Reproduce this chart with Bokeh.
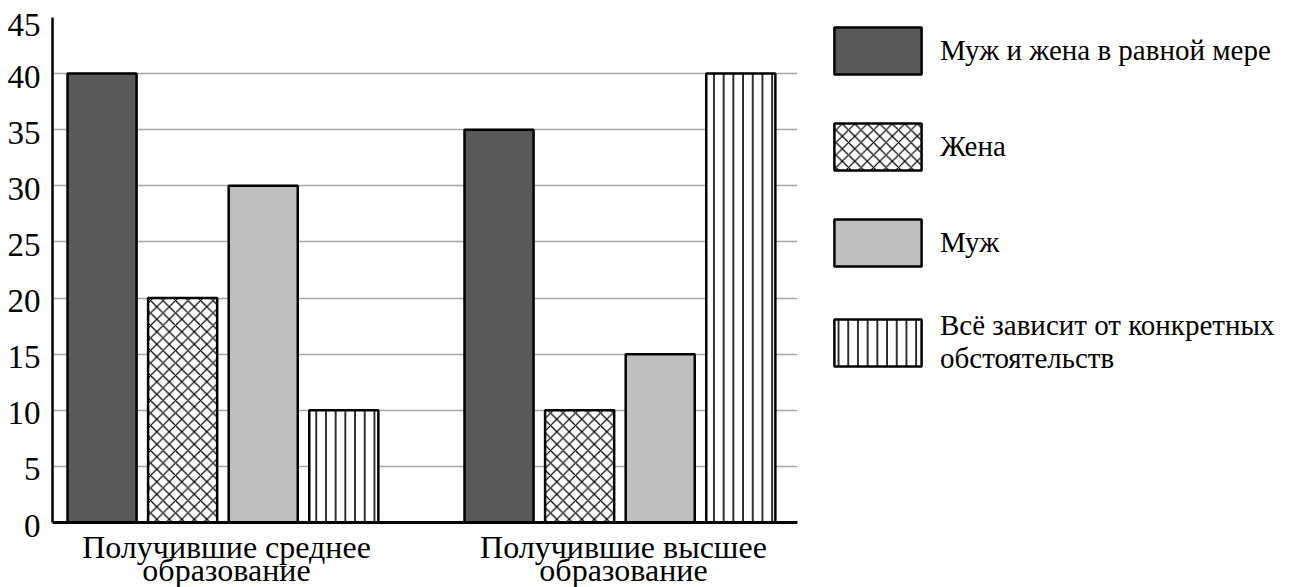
from bokeh.plotting import figure
from bokeh.layouts import row
from bokeh.models import FactorRange, ColumnDataSource, Legend, LegendItem, FixedTicker
from bokeh.transform import dodge
from bokeh.embed import file_html
from bokeh.resources import INLINE

groups = ["Получившие среднее\nобразование", "Получившие высшее\nобразование"]
series = ["Муж и жена в равной мере", "Жена", "Муж",
          "Всё зависит от конкретных\nобстоятельств"]
equal = [40, 35]
wife = [20, 10]
husband = [30, 15]
depends = [10, 40]
y_ticks = [0, 5, 10, 15, 20, 25, 30, 35, 40, 45]

FONT = "Liberation Serif"

p = figure(
    x_range=FactorRange(*groups, range_padding=-0.0617, range_padding_units="absolute"),
    y_range=(0, 45),
    frame_width=745, frame_height=505,
    output_backend="svg", toolbar_location=None,
    min_border_left=52, min_border_right=22, min_border_top=17, min_border_bottom=65,
)

src = ColumnDataSource(dict(group=groups, equal=equal, wife=wife,
                            husband=husband, depends=depends))

step = 0.203
bw = 0.174
shift = -0.009
styles = [
    ("equal", dict(fill_color="#595959")),
    ("wife", dict(fill_color="white", hatch_pattern="x", hatch_scale=12.5,
                  hatch_weight=1.2, hatch_color="black")),
    ("husband", dict(fill_color="#bfbfbf")),
    ("depends", dict(fill_color="white", hatch_pattern="|", hatch_scale=9.7,
                     hatch_weight=1.6, hatch_color="black")),
]
for i, (col, st) in enumerate(styles):
    p.vbar(x=dodge("group", (i - 1.5) * step + shift, range=p.x_range), top=col,
           width=bw, source=src, line_color="black", line_width=2.5, **st)

p.outline_line_color = None
p.xgrid.grid_line_color = None
p.ygrid.grid_line_color = "#a6a6a6"
p.ygrid.grid_line_width = 1.5
p.yaxis.ticker = FixedTicker(ticks=y_ticks)
p.yaxis.major_label_overrides = {t: "\n" + str(t) for t in y_ticks}

for ax in (p.xaxis[0], p.yaxis[0]):
    ax.axis_line_width = 2.5
    ax.axis_line_color = "black"
    ax.major_tick_line_color = None
    ax.minor_tick_line_color = None
    ax.major_tick_out = 0
    ax.major_tick_in = 0
    ax.major_label_text_font = FONT
    ax.major_label_text_color = "black"

p.xaxis.axis_line_width = 3
p.yaxis.major_label_text_font_size = "33px"
p.yaxis.major_label_text_line_height = 0.17
p.yaxis.major_label_standoff = 12
p.xaxis.major_label_text_font_size = "32px"
p.xaxis.major_label_text_line_height = 0.66
p.xaxis.major_label_standoff = 6

# legend panel: the same bars, whose groups are not in this panel's range,
# so only their legend swatches are drawn
pl = figure(frame_width=458, frame_height=505, output_backend="svg",
            toolbar_location=None, x_axis_type=None, y_axis_type=None,
            x_range=FactorRange("legend"), y_range=(0, 45),
            min_border_left=0, min_border_top=17, min_border_right=0,
            min_border_bottom=65)
pl.grid.visible = False
pl.outline_line_color = None
leg_renderers = [
    pl.vbar(x=dodge("group", (i - 1.5) * step, range=pl.x_range), top=col,
            width=bw, source=src, line_color="black", line_width=2.5, **st)
    for i, (col, st) in enumerate(styles)
]
legend = Legend(
    items=[LegendItem(label=s, renderers=[r]) for s, r in zip(series, leg_renderers)],
    location="top_left",
    glyph_width=109, glyph_height=59, spacing=37, padding=0, margin=4,
    label_standoff=8, label_text_font=FONT, label_text_font_size="29px",
    label_text_color="black", label_text_line_height=0.8,
    border_line_color=None, background_fill_alpha=0,
)
pl.add_layout(legend, "center")

open("out.html", "w").write(file_html(row(p, pl), INLINE))
